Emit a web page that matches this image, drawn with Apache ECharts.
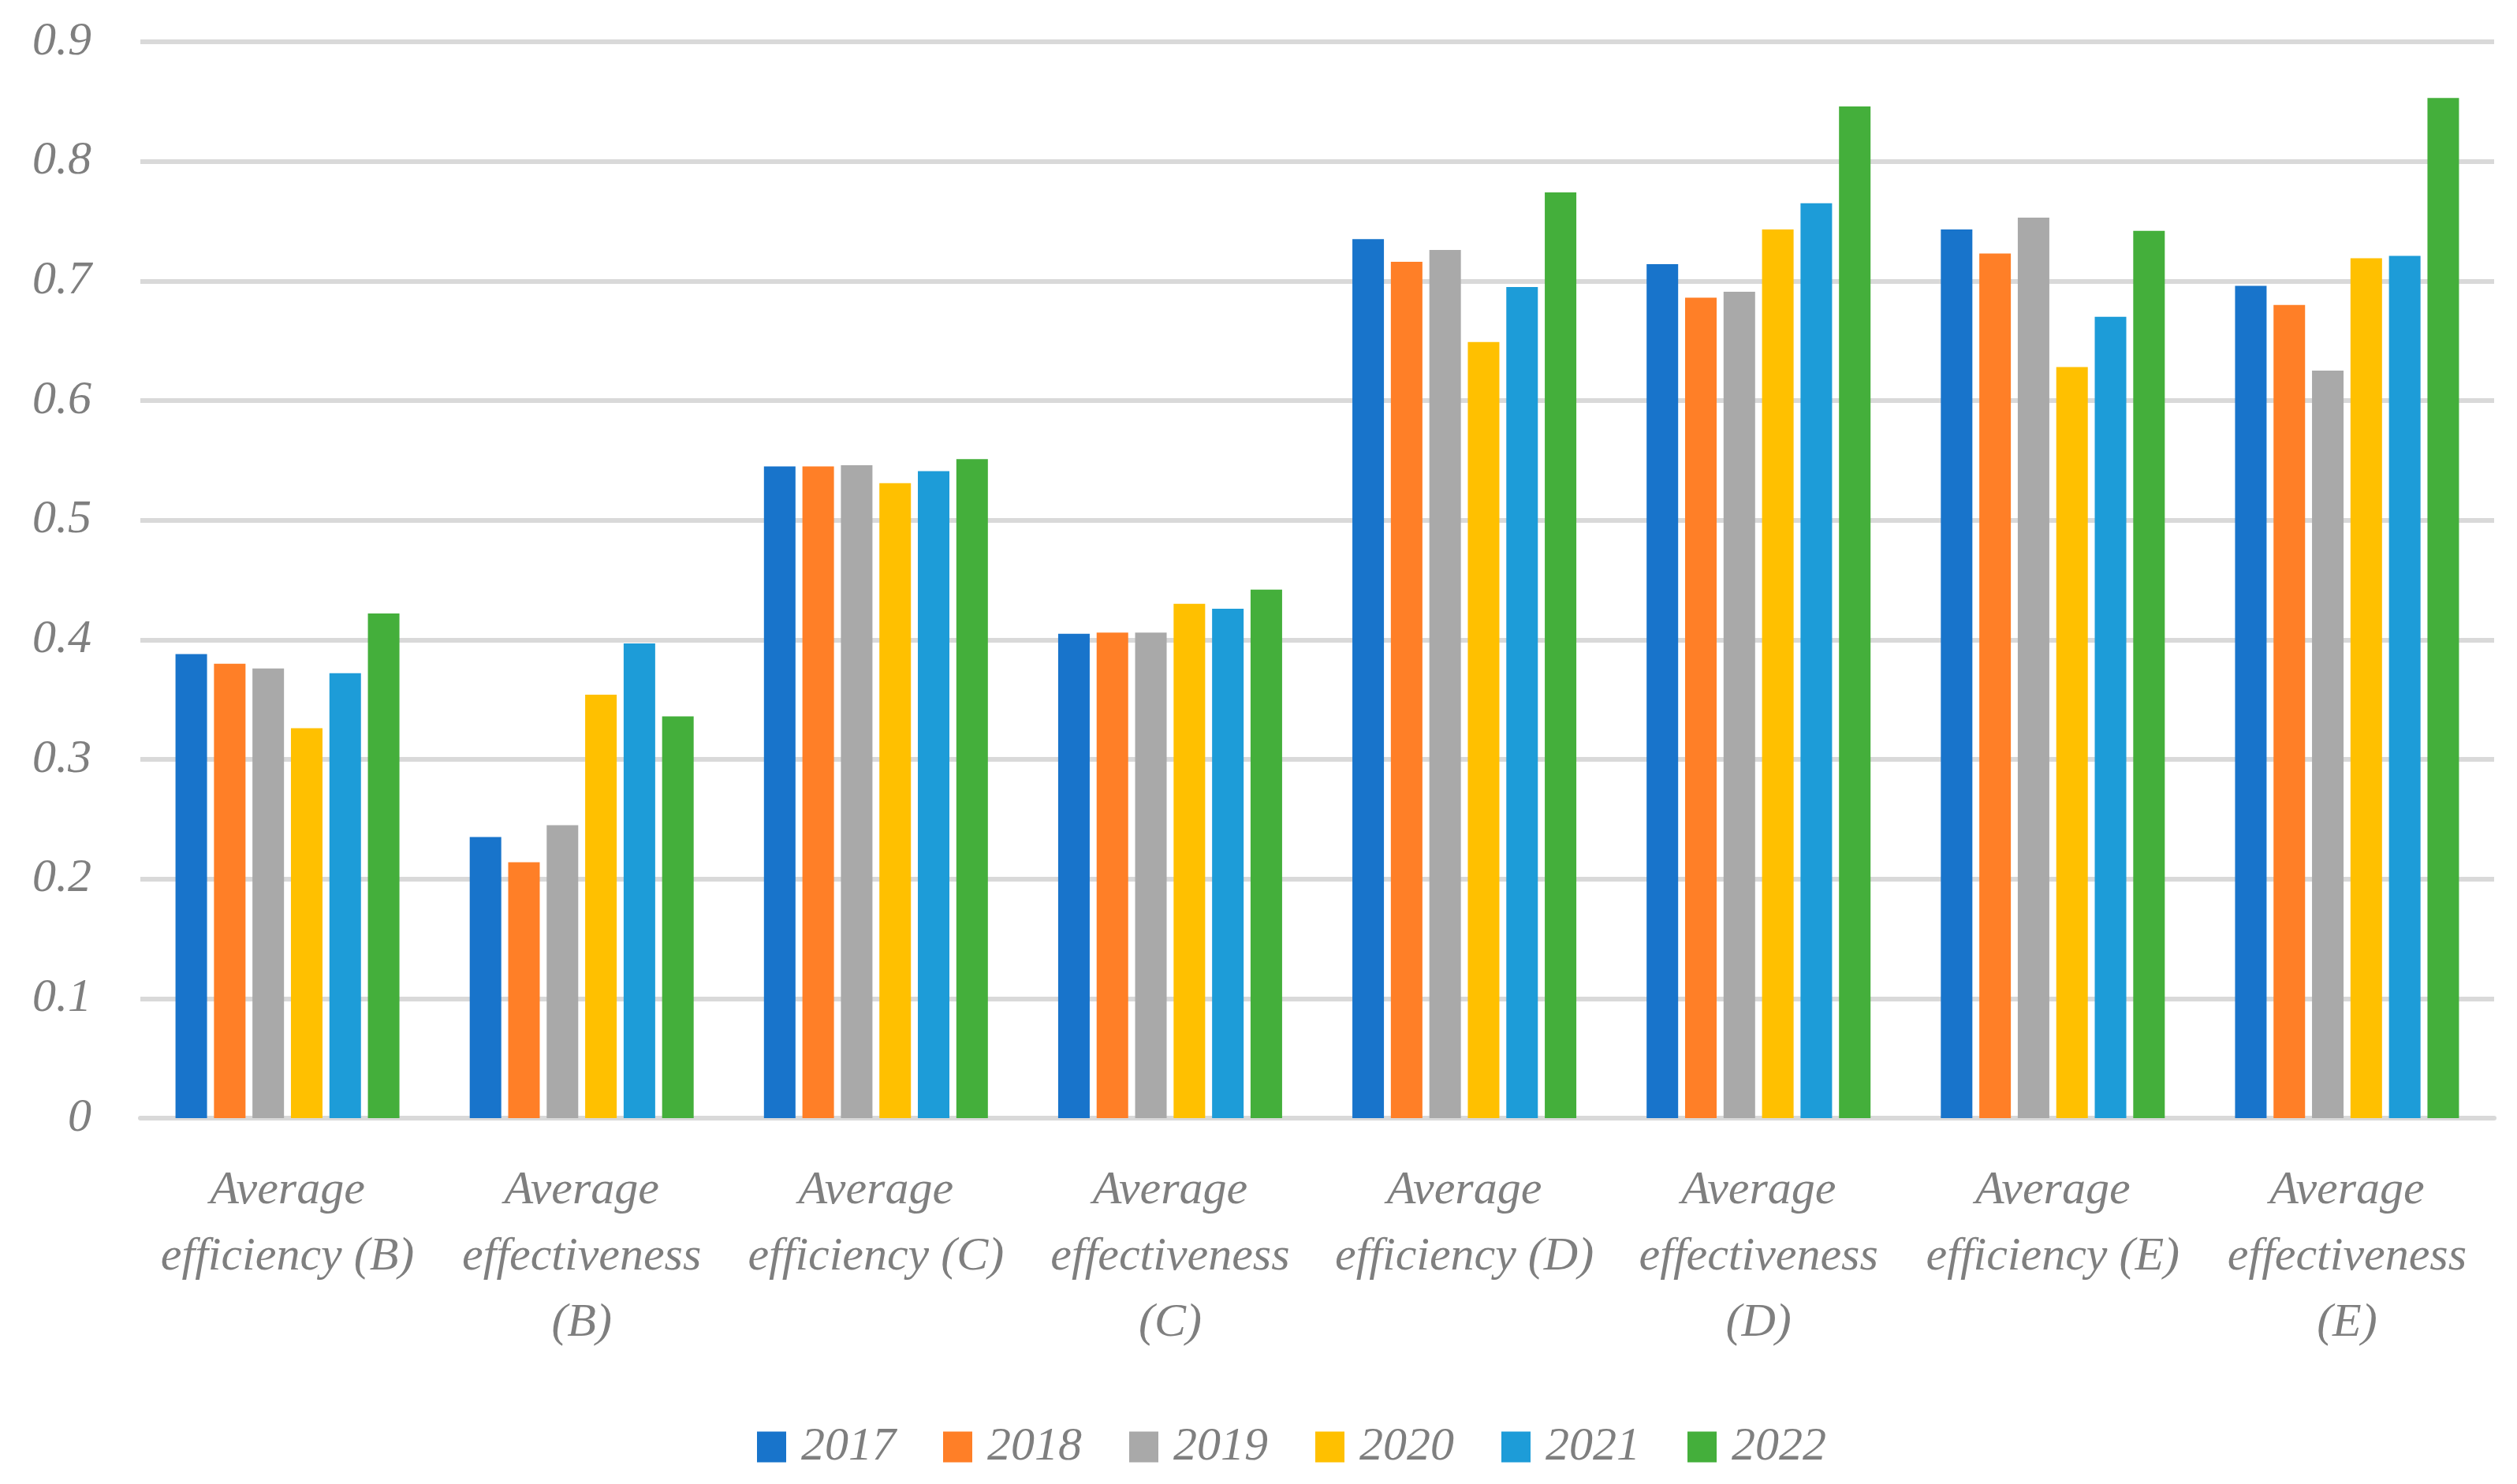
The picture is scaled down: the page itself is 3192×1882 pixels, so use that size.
<!DOCTYPE html>
<html>
<head>
<meta charset="utf-8">
<script src="https://cdn.jsdelivr.net/npm/echarts@6/dist/echarts.min.js"></script>
<style>html,body{margin:0;padding:0;background:#fff}#c{width:3192px;height:1882px}</style>
</head>
<body>
<div id="c"></div>
<script>
const categories = [
  "Average\nefficiency (B)",
  "Average\neffectiveness\n(B)",
  "Average\nefficiency (C)",
  "Average\neffectiveness\n(C)",
  "Average\nefficiency (D)",
  "Average\neffectiveness\n(D)",
  "Average\nefficiency (E)",
  "Average\neffectiveness\n(E)"
];
const years = ["2017", "2018", "2019", "2020", "2021", "2022"];
const v2017 = [0.388, 0.235, 0.545, 0.405, 0.735, 0.714, 0.743, 0.696];
const v2018 = [0.380, 0.214, 0.545, 0.406, 0.716, 0.686, 0.723, 0.680];
const v2019 = [0.376, 0.245, 0.546, 0.406, 0.726, 0.691, 0.753, 0.625];
const v2020 = [0.326, 0.354, 0.531, 0.430, 0.649, 0.743, 0.628, 0.719];
const v2021 = [0.372, 0.397, 0.541, 0.426, 0.695, 0.765, 0.670, 0.721];
const v2022 = [0.422, 0.336, 0.551, 0.442, 0.774, 0.846, 0.742, 0.853];
const seriesValues = [v2017, v2018, v2019, v2020, v2021, v2022];
const colors = ["#1874cb", "#ff7f27", "#a9a9a9", "#ffc000", "#1d9cd8", "#44af3b"];
const yTicks = { min: 0, max: 0.9, interval: 0.1 };

const font = "'Liberation Serif', serif";
const chart = echarts.init(document.getElementById('c'));
chart.setOption({
  animation: false,
  color: colors,
  grid: { left: 178, right: 29, top: 53, bottom: 464, containLabel: false },
  legend: {
    data: years,
    left: 955,
    top: 1800,
    itemWidth: 37,
    itemHeight: 39,
    itemGap: 60,
    icon: 'rect',
    textStyle: { fontFamily: font, fontStyle: 'italic', fontSize: 60, color: '#7f7f7f', padding: [0, 0, 0, 14] }
  },
  xAxis: {
    type: 'category',
    data: categories,
    axisLine: { show: true, lineStyle: { color: '#d9d9d9', width: 6 } },
    axisTick: { show: false },
    axisLabel: {
      interval: 0,
      margin: 50,
      fontFamily: font, fontStyle: 'italic', fontSize: 60, lineHeight: 84, color: '#7f7f7f'
    }
  },
  yAxis: {
    type: 'value',
    min: yTicks.min, max: yTicks.max, interval: yTicks.interval,
    axisLine: { show: false },
    axisTick: { show: false },
    splitLine: { lineStyle: { color: '#d9d9d9', width: 6 } },
    axisLabel: {
      margin: 62,
      fontFamily: font, fontStyle: 'italic', fontSize: 60, color: '#7f7f7f',
      formatter: v => (Math.round(v * 10) / 10).toString()
    }
  },
  series: years.map((y, i) => ({
    name: y,
    type: 'bar',
    data: seriesValues[i],
    barWidth: 40,
    barGap: '22%',
    itemStyle: { color: colors[i] }
  }))
});
</script>
</body>
</html>
